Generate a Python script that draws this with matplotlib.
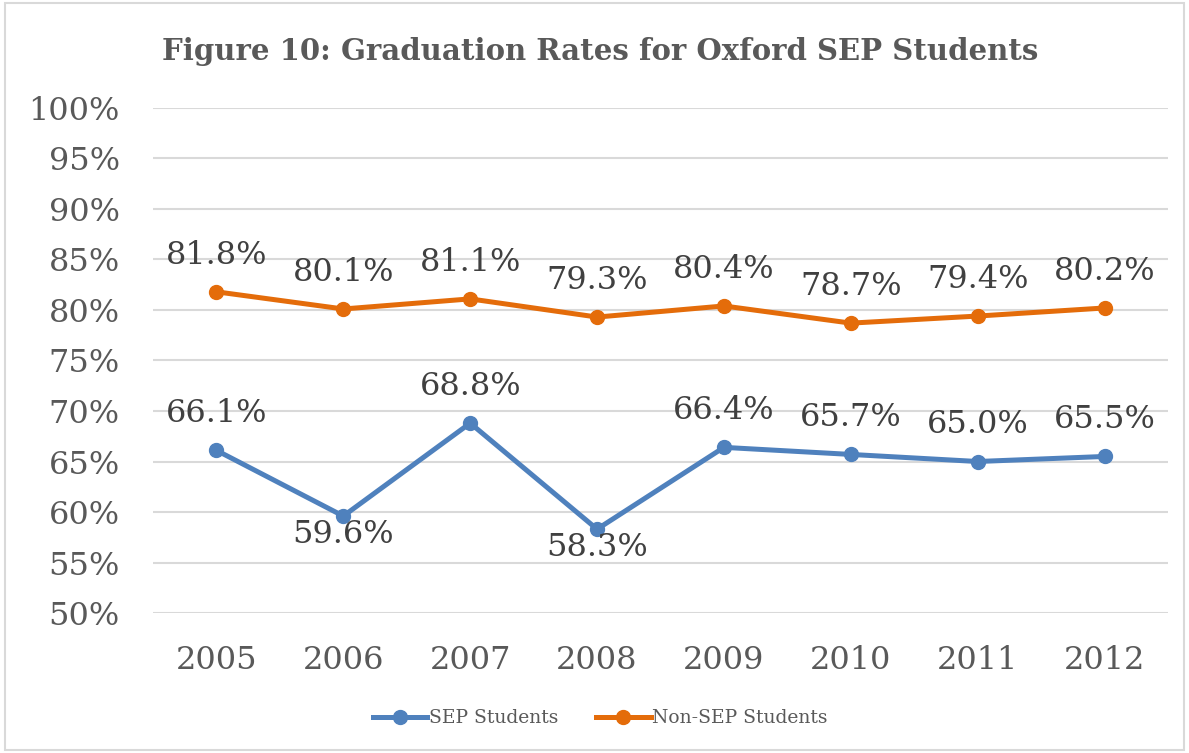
import numpy as np
import matplotlib.pyplot as plt
from matplotlib.patches import Rectangle
from matplotlib.ticker import FuncFormatter

years = ["2005", "2006", "2007", "2008", "2009", "2010", "2011", "2012"]
sep = [66.1, 59.6, 68.8, 58.3, 66.4, 65.7, 65.0, 65.5]
non_sep = [81.8, 80.1, 81.1, 79.3, 80.4, 78.7, 79.4, 80.2]
# labels that sit under the point instead of above it
sep_below = [False, True, False, True, False, False, False, False]

BLUE = "#4F81BD"
ORANGE = "#E46C0A"
GRAY = "#595959"
LABEL = "#404040"

plt.rcParams["font.family"] = ["DejaVu Serif"]

fig = plt.figure(figsize=(11.89, 7.53), dpi=100)
fig.patches.append(Rectangle((0.004, 0.004), 0.992, 0.992, transform=fig.transFigure,
                             fill=False, edgecolor="#D9D9D9", linewidth=1.5))
ax = fig.add_axes([0.1287, 0.1859, 0.8536, 0.6707])

x = np.arange(len(years))
ax.plot(x, sep, color=BLUE, lw=3.6, marker="o", ms=10, label="SEP Students", zorder=3)
ax.plot(x, non_sep, color=ORANGE, lw=3.6, marker="o", ms=10, label="Non-SEP Students", zorder=3)

for i in range(len(x)):
    ax.annotate(f"{non_sep[i]:.1f}%", (x[i], non_sep[i]), xytext=(0, 26.5),
                textcoords="offset points", ha="center", va="center",
                fontsize=23, color=LABEL)
    dy = -13.5 if sep_below[i] else 26.5
    ax.annotate(f"{sep[i]:.1f}%", (x[i], sep[i]), xytext=(0, dy),
                textcoords="offset points", ha="center", va="center",
                fontsize=23, color=LABEL)

ax.set_xlim(-0.5, len(years) - 0.5)
ax.set_ylim(50, 100)
ax.set_yticks(np.arange(50, 101, 5))
ax.yaxis.set_major_formatter(FuncFormatter(lambda v, p: f"{v:.0f}%"))
ax.set_xticks(x)
ax.set_xticklabels(years)
ax.tick_params(axis="both", length=0, labelsize=23, labelcolor=GRAY)
ax.tick_params(axis="x", pad=23)
ax.tick_params(axis="y", pad=24)
ax.grid(axis="y", color="#D9D9D9", lw=1.5)
ax.set_axisbelow(True)
for s in ax.spines.values():
    s.set_visible(False)

fig.text(0.505, 0.932, "Figure 10: Graduation Rates for Oxford SEP Students",
         ha="center", va="center", fontsize=21, fontweight="bold", color=GRAY)

fig.legend(loc="center", bbox_to_anchor=(0.505, 0.046), ncol=2, frameon=False,
           fontsize=13.5, handlelength=2.9, columnspacing=2.0, handletextpad=0.1,
           labelcolor=GRAY)

fig.savefig("out.png", dpi=100)
